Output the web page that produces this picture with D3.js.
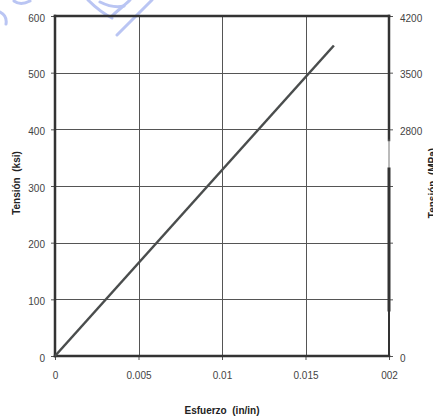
<!DOCTYPE html>
<html>
<head>
<meta charset="utf-8">
<script src="https://cdn.jsdelivr.net/npm/d3@7"></script>
<style>
  html, body { margin: 0; padding: 0; background: #fff; }
  svg { display: block; }
  text { font-family: "Liberation Sans", Arial, sans-serif; }
</style>
</head>
<body>
<svg id="chart" width="433" height="417"></svg>
<script>
// Stress-strain curve data
const strain = [0, 0.0167];
const stressKsi = [0, 548];

// Axis ticks and labels
const xTicks = [0, 0.005, 0.01, 0.015, 0.02];
const xTickLabels = ["0", "0.005", "0.01", "0.015", "002"];
const yTicks = [0, 100, 200, 300, 400, 500, 600];
const yRightTicks = [0, 700, 1400, 2100, 2800, 3500, 4200];
const yRightLabels = ["0", "", "", "", "2800", "3500", "4200"];

const svg = d3.select("#chart");
const plotL = 55, plotR = 389, plotT = 16, plotB = 356;

const x = d3.scaleLinear().domain([0, 0.02]).range([plotL, plotR]);
const y = d3.scaleLinear().domain([0, 600]).range([plotB, plotT]);
const yR = d3.scaleLinear().domain([0, 4200]).range([plotB, plotT]);

// light blue scribbles in the top-left corner
const deco = svg.append("g").attr("fill", "none").attr("stroke", "#aebcf2")
  .attr("stroke-width", 3).attr("stroke-linecap", "round").attr("opacity", 0.85);
deco.append("path").attr("d", "M0,12 C4,14 7,18 6,24");
deco.append("path").attr("d", "M14,1 C18,4 24,4 30,1");
deco.append("path").attr("d", "M152,0 L117,35");
deco.append("path").attr("d", "M88,0 C96,8 104,14 112,18");
deco.append("path").attr("d", "M100,2 C108,6 116,8 124,6");
deco.append("path").attr("d", "M112,16 C118,10 124,6 130,0");

// gridlines
const grid = svg.append("g").attr("stroke", "#555").attr("stroke-width", 1);
grid.selectAll(".gx").data(xTicks.slice(1, -1)).join("line")
  .attr("x1", d => Math.round(x(d)) + 0.5).attr("x2", d => Math.round(x(d)) + 0.5)
  .attr("y1", plotT).attr("y2", plotB);
grid.selectAll(".gy").data(yTicks.slice(1, -1)).join("line")
  .attr("y1", d => Math.round(y(d)) + 0.5).attr("y2", d => Math.round(y(d)) + 0.5)
  .attr("x1", plotL).attr("x2", plotR);

// left axis
const axL = svg.append("g").attr("transform", `translate(${plotL},0)`)
  .call(d3.axisLeft(y).tickValues(yTicks).tickSize(4).tickPadding(6));
// right axis
const axR = svg.append("g").attr("transform", `translate(${plotR},0)`)
  .call(d3.axisRight(yR).tickValues(yRightTicks).tickSize(4).tickPadding(7)
    .tickFormat((d, i) => yRightLabels[i]));
// bottom axis
const axB = svg.append("g").attr("transform", `translate(0,${plotB})`)
  .call(d3.axisBottom(x).tickValues(xTicks).tickSize(4).tickPadding(12)
    .tickFormat((d, i) => xTickLabels[i]));

[axL, axR, axB].forEach(a => {
  a.select(".domain").remove();
  a.selectAll(".tick line").attr("stroke", "#555");
  a.selectAll(".tick text").attr("fill", "#444").attr("font-size", 10)
    .attr("font-family", "'Liberation Sans', Arial, sans-serif");
});
axL.selectAll(".tick text").attr("dy", "0.5em");
axR.selectAll(".tick text").attr("dy", "0.5em");

// plot frame
const frame = svg.append("g").attr("stroke", "#333").attr("stroke-linecap", "square");
frame.append("line").attr("x1", plotL).attr("x2", plotR).attr("y1", plotT).attr("y2", plotT).attr("stroke-width", 2.5);
frame.append("line").attr("x1", plotL).attr("x2", plotR).attr("y1", plotB).attr("y2", plotB).attr("stroke-width", 2.5);
frame.append("line").attr("x1", plotL).attr("x2", plotL).attr("y1", plotT).attr("y2", plotB).attr("stroke-width", 2.5);
frame.append("line").attr("x1", plotR).attr("x2", plotR).attr("y1", plotT).attr("y2", 140).attr("stroke-width", 2.5);
frame.append("line").attr("x1", plotR).attr("x2", plotR).attr("y1", 140).attr("y2", 169).attr("stroke-width", 1).attr("stroke", "#777");
frame.append("line").attr("x1", plotR).attr("x2", plotR).attr("y1", 169).attr("y2", 310).attr("stroke-width", 3);
frame.append("line").attr("x1", plotR).attr("x2", plotR).attr("y1", 310).attr("y2", plotB).attr("stroke-width", 2);

// stress-strain line
const pts = strain.map((s, i) => [s, stressKsi[i]]);
svg.append("path").datum(pts)
  .attr("fill", "none").attr("stroke", "#4a4d4d").attr("stroke-width", 2.5)
  .attr("d", d3.line().x(d => x(d[0])).y(d => y(d[1])));

// axis titles
svg.append("text").attr("x", (plotL + plotR) / 2).attr("y", 414)
  .attr("text-anchor", "middle").attr("font-size", 10).attr("font-weight", "bold")
  .attr("fill", "#222").attr("xml:space", "preserve").text("Esfuerzo  (in/in)");
svg.append("text").attr("transform", `translate(20,${(plotT + plotB) / 2 - 3}) rotate(-90)`)
  .attr("text-anchor", "middle").attr("font-size", 10).attr("font-weight", "bold")
  .attr("fill", "#222").attr("xml:space", "preserve").text("Tensión  (ksi)");
svg.append("text").attr("transform", `translate(436,${(plotT + plotB) / 2 - 3}) rotate(-90)`)
  .attr("text-anchor", "middle").attr("font-size", 10).attr("font-weight", "bold")
  .attr("fill", "#222").attr("xml:space", "preserve").text("Tensión  (MPa)");
</script>
</body>
</html>
